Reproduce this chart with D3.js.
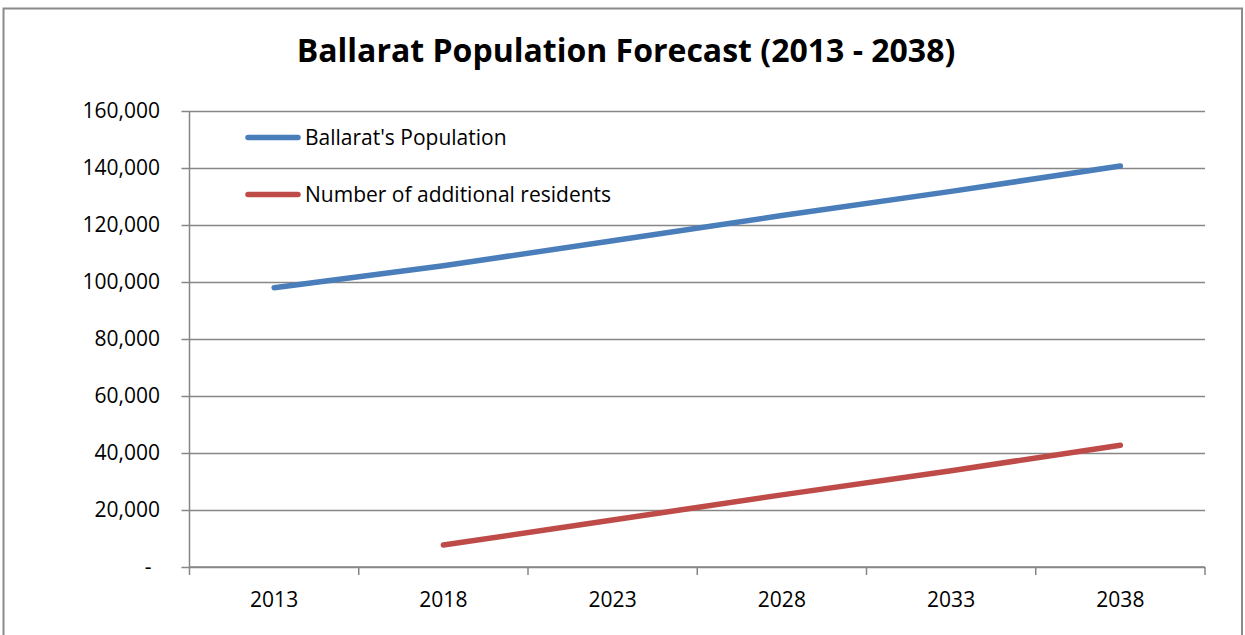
<!DOCTYPE html>
<html>
<head>
<meta charset="utf-8">
<script src="https://cdn.jsdelivr.net/npm/d3@7"></script>
<style>
  html, body { margin: 0; padding: 0; background: #fff; }
  svg { display: block; }
  text { font-family: "Open Sans", "Noto Sans", sans-serif; fill: #000; }
</style>
</head>
<body>
<svg id="chart" width="1245" height="635"></svg>
<script>
const years = ["2013", "2018", "2023", "2028", "2033", "2038"];
const population = [98000, 105700, 114500, 123300, 131800, 140700];
const additional = [null, 7700, 16500, 25300, 33800, 42700];
const seriesNames = ["Ballarat's Population", "Number of additional residents"];
const seriesColors = ["#4a7ebb", "#be4b48"];
const yTicks = [0, 20000, 40000, 60000, 80000, 100000, 120000, 140000, 160000];
const titleText = "Ballarat Population Forecast (2013 - 2038)";

const svg = d3.select("#chart");
const plot = { left: 189.5, right: 1205, top: 111, bottom: 567 };
const gridColor = "#868686";

// outer border
svg.append("rect")
  .attr("x", 3.5).attr("y", 8.5)
  .attr("width", 1238.5).attr("height", 640)
  .attr("fill", "#fff").attr("stroke", "#8a8a8a").attr("stroke-width", 2);

// title
svg.append("text")
  .attr("x", 626).attr("y", 62)
  .attr("text-anchor", "middle")
  .attr("font-weight", "bold")
  .attr("font-size", 32)
  .text(titleText);

const x = d3.scaleBand().domain(years).range([plot.left, plot.right]).padding(0);
const y = d3.scaleLinear().domain([0, 160000]).range([plot.bottom, plot.top]);

// y axis with gridlines
const yAxis = d3.axisLeft(y)
  .tickValues(yTicks)
  .tickSize(-(plot.right - plot.left))
  .tickSizeOuter(0)
  .tickFormat(d => d === 0 ? "-" : d3.format(",")(d));

const gy = svg.append("g").attr("transform", `translate(${plot.left},0)`).call(yAxis);
gy.select(".domain").remove();
gy.selectAll(".tick line")
  .attr("x1", -8)
  .attr("stroke", gridColor).attr("stroke-width", 1.5);
gy.selectAll(".tick text")
  .attr("font-size", 21)
  .attr("font-family", '"Open Sans", sans-serif')
  .attr("fill", "#000")
  .attr("x", -29.5);
gy.selectAll(".tick").filter(d => d === 0).select("text").attr("x", -38);

// vertical axis line
svg.append("line")
  .attr("x1", plot.left).attr("x2", plot.left)
  .attr("y1", plot.top).attr("y2", plot.bottom)
  .attr("stroke", gridColor).attr("stroke-width", 1.5);

// x axis: ticks at band boundaries
const boundaries = years.map(d => x(d)).concat([x(years[years.length - 1]) + x.bandwidth()]);
const gx = svg.append("g");
gx.append("line")
  .attr("x1", plot.left).attr("x2", plot.right)
  .attr("y1", plot.bottom).attr("y2", plot.bottom)
  .attr("stroke", gridColor).attr("stroke-width", 1.5);
gx.selectAll("line.tk").data(boundaries).join("line")
  .attr("class", "tk")
  .attr("x1", d => d).attr("x2", d => d)
  .attr("y1", plot.bottom).attr("y2", plot.bottom + 8)
  .attr("stroke", gridColor).attr("stroke-width", 1.5);
gx.selectAll("text").data(years).join("text")
  .attr("x", d => x(d) + x.bandwidth() / 2)
  .attr("y", 607)
  .attr("text-anchor", "middle")
  .attr("font-size", 21)
  .text(d => d);

// lines
const allSeries = [population, additional];
const line = d3.line()
  .defined(d => d.v != null)
  .x(d => x(d.year) + x.bandwidth() / 2)
  .y(d => y(d.v));

allSeries.forEach((vals, i) => {
  svg.append("path")
    .datum(years.map((yr, j) => ({ year: yr, v: vals[j] })))
    .attr("fill", "none")
    .attr("stroke", seriesColors[i])
    .attr("stroke-width", 5.5)
    .attr("stroke-linecap", "round")
    .attr("stroke-linejoin", "round")
    .attr("d", line);
});

// legend
const legendY = [137.5, 194.5];
seriesNames.forEach((name, i) => {
  svg.append("line")
    .attr("x1", 248).attr("x2", 298)
    .attr("y1", legendY[i]).attr("y2", legendY[i])
    .attr("stroke", seriesColors[i]).attr("stroke-width", 5.5)
    .attr("stroke-linecap", "round");
  svg.append("text")
    .attr("x", 305).attr("y", legendY[i] + 7.5)
    .attr("font-size", 21)
    .text(name);
});
</script>
</body>
</html>
